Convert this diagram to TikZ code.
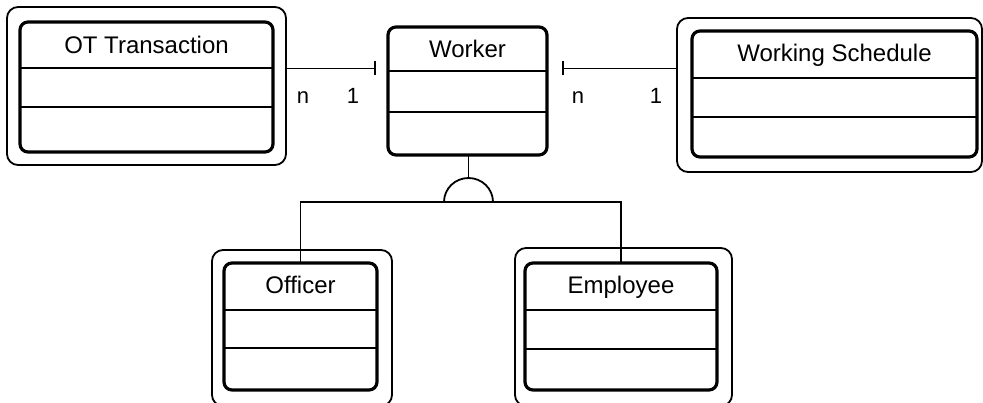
\documentclass[tikz,border=0pt]{standalone}
\usepackage{fontspec}
\setmainfont{Liberation Sans}
\usetikzlibrary{arrows.meta}

\tikzset{
  classbox/.style={draw, line width=3.2pt, rounded corners=8pt, fill=white,
    inner sep=0pt, outer sep=0pt},
  classframe/.style={draw, line width=1.8pt, rounded corners=11pt,
    inner sep=0pt, outer sep=0pt},
  divider/.style={line width=2pt},
  link/.style={line width=1.8pt},
  title/.style={anchor=base, inner sep=0pt, font=\fontsize{24}{24}\selectfont},
  mult/.style={anchor=base, inner sep=0pt, font=\fontsize{22}{22}\selectfont},
}

\begin{document}
\begin{tikzpicture}[x=1pt, y=-1pt]
\useasboundingbox (0,0) rectangle (983,403);

% ---- OT Transaction ----
\node[classframe, minimum width=279pt, minimum height=158pt] (otf) at (146.5,86) {};
\node[classbox, minimum width=253pt, minimum height=130pt] (ot) at (146.5,87) {};
\draw[divider] (ot.west |- 0,68) -- (ot.east |- 0,68);
\draw[divider] (ot.west |- 0,107) -- (ot.east |- 0,107);
\node[title] (otT) at (146.5,54) {OT Transaction};

% ---- Worker ----
\node[classbox, minimum width=159pt, minimum height=128pt] (wk) at (467.5,91) {};
\draw[divider] (wk.west |- 0,71) -- (wk.east |- 0,71);
\draw[divider] (wk.west |- 0,112) -- (wk.east |- 0,112);
\node[title] (wkT) at (467.5,58) {Worker};

% ---- Working Schedule ----
\node[classframe, minimum width=305pt, minimum height=154pt] (wsf) at (829.5,95) {};
\node[classbox, minimum width=285pt, minimum height=126pt] (ws) at (834.5,94) {};
\draw[divider] (ws.west |- 0,78) -- (ws.east |- 0,78);
\draw[divider] (ws.west |- 0,117) -- (ws.east |- 0,117);
\node[title] (wsT) at (834.5,62) {Working Schedule};

% ---- Officer ----
\node[classframe, minimum width=180pt, minimum height=156pt] (off) at (302,328) {};
\node[classbox, minimum width=153pt, minimum height=127pt] (of) at (300.5,326.5) {};
\draw[divider] (of.west |- 0,310) -- (of.east |- 0,310);
\draw[divider] (of.west |- 0,348) -- (of.east |- 0,348);
\node[title] (ofT) at (300.5,294) {Officer};

% ---- Employee ----
\node[classframe, minimum width=217pt, minimum height=158pt] (emf) at (623.5,327) {};
\node[classbox, minimum width=192pt, minimum height=127pt] (em) at (621,326.5) {};
\draw[divider] (em.west |- 0,310) -- (em.east |- 0,310);
\draw[divider] (em.west |- 0,349) -- (em.east |- 0,349);
\node[title] (emT) at (621,294) {Employee};

% ---- associations ----
\coordinate (tickL) at (376,68.5);
\coordinate (tickR) at (562,68.5);
\draw[link, -{Bar[width=14pt, line width=1.8pt]}] (otf.east |- tickL) -- (tickL);
\draw[link, -{Bar[width=14pt, line width=1.8pt]}] (wsf.west |- tickR) -- (tickR);
\node[mult] (nL) at (303,104) {n};
\node[mult] (oneL) at (353,104) {1};
\node[mult] (nR) at (578,104) {n};
\node[mult] (oneR) at (656,104) {1};

% ---- generalization: stem, half-disc and branches ----
\coordinate (gtop) at (468.5,178);
\coordinate (gbase) at (468.5,202);
\draw[link] (wk.south -| gtop) -- (gtop);
\draw[link] (444,202) arc[start angle=180, end angle=360, x radius=24.5, y radius=24];
\draw[link] (of.north) |- (gbase) -| (em.north);
\end{tikzpicture}
\end{document}
